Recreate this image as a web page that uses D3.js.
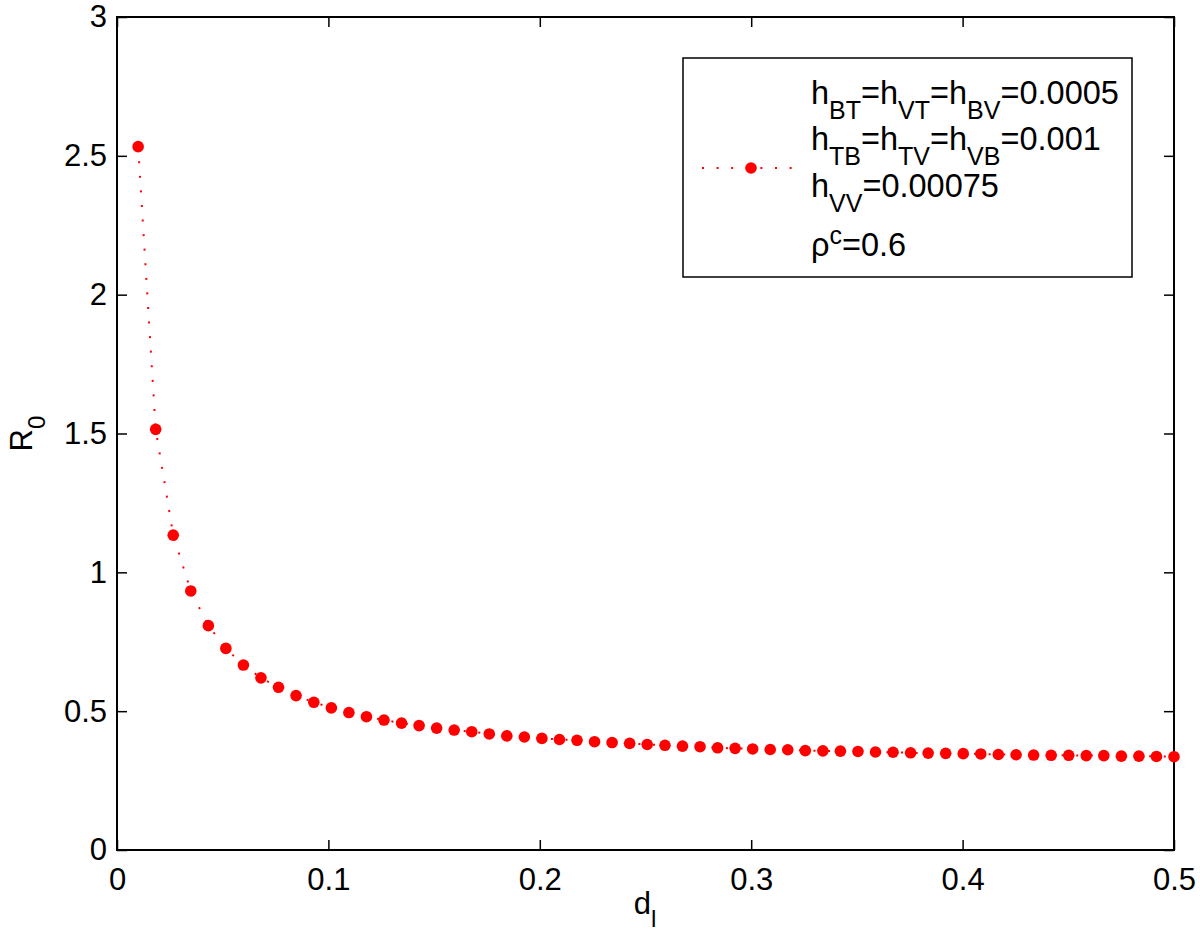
<!DOCTYPE html>
<html>
  <head>
    <meta charset="utf-8" />
    <title>R0 vs dl</title>
    <script src="https://cdn.jsdelivr.net/npm/d3@7"></script>
    <style type="text/css">
      html, body {
        margin: 0;
        padding: 0;
        background: #fff;
      }
      svg text {
        font-family: "Liberation Sans", Arial, Helvetica, sans-serif;
        fill: #000;
      }
      .tick line {
        stroke: #000;
        stroke-width: 1.5;
      }
    </style>
  </head>
  <body>
    <svg id="chart" width="1200" height="948"></svg>

    <script type="text/javascript">

    // d_l values (x) and R_0 values (y)
    var dl = [0.0100, 0.0183, 0.0266, 0.0349, 0.0432, 0.0515, 0.0598, 0.0681, 0.0764, 0.0847,
              0.0931, 0.1014, 0.1097, 0.1180, 0.1263, 0.1346, 0.1429, 0.1512, 0.1595, 0.1678,
              0.1761, 0.1844, 0.1927, 0.2010, 0.2093, 0.2176, 0.2259, 0.2342, 0.2425, 0.2508,
              0.2592, 0.2675, 0.2758, 0.2841, 0.2924, 0.3007, 0.3090, 0.3173, 0.3256, 0.3339,
              0.3422, 0.3505, 0.3588, 0.3671, 0.3754, 0.3837, 0.3920, 0.4003, 0.4086, 0.4169,
              0.4253, 0.4336, 0.4419, 0.4502, 0.4585, 0.4668, 0.4751, 0.4834, 0.4917, 0.5000];

    var r0 = [2.533, 1.515, 1.134, 0.933, 0.808, 0.726, 0.666, 0.620, 0.586, 0.556,
              0.532, 0.512, 0.495, 0.480, 0.468, 0.457, 0.448, 0.439, 0.432, 0.426,
              0.418, 0.411, 0.407, 0.402, 0.398, 0.395, 0.390, 0.387, 0.384, 0.380,
              0.377, 0.374, 0.372, 0.368, 0.366, 0.364, 0.362, 0.361, 0.358, 0.357,
              0.356, 0.355, 0.353, 0.352, 0.350, 0.349, 0.348, 0.347, 0.346, 0.344,
              0.343, 0.342, 0.341, 0.341, 0.340, 0.340, 0.338, 0.338, 0.337, 0.336];

    var xTicks = [0, 0.1, 0.2, 0.3, 0.4, 0.5],
        yTicks = [0, 0.5, 1, 1.5, 2, 2.5, 3];

    // plot box (window.top is reserved, so use m* names)
    var mLeft = 117, mRight = 1174, mTop = 17, mBottom = 850;
    var fontSize = 31, subSize = 24,
        legSize = 32.5, legSub = 25;

    var svg = d3.select('#chart');

    var x = d3.scaleLinear().domain([0, 0.5]).range([mLeft, mRight]),
        y = d3.scaleLinear().domain([0, 3]).range([mBottom, mTop]);

    var fmt = function(d) { return String(d); };

    // axes: MATLAB style, ticks pointing inward on all 4 sides
    var gx = svg.append('g')
      .attr('transform', 'translate(0,' + mBottom + ')')
      .call(d3.axisBottom(x).tickValues(xTicks).tickFormat(fmt).tickSizeInner(-10).tickSizeOuter(0).tickPadding(18));
    var gy = svg.append('g')
      .attr('transform', 'translate(' + mLeft + ',0)')
      .call(d3.axisLeft(y).tickValues(yTicks).tickFormat(fmt).tickSizeInner(-10).tickSizeOuter(0).tickPadding(10));
    var gt = svg.append('g')
      .attr('transform', 'translate(0,' + mTop + ')')
      .call(d3.axisTop(x).tickValues(xTicks).tickFormat('').tickSizeInner(-10).tickSizeOuter(0));
    var gr = svg.append('g')
      .attr('transform', 'translate(' + mRight + ',0)')
      .call(d3.axisRight(y).tickValues(yTicks).tickFormat('').tickSizeInner(-10).tickSizeOuter(0));

    [gx, gy, gt, gr].forEach(function(g) {
      g.select('.domain').remove();
      g.selectAll('text').attr('font-size', fontSize).attr('fill', '#000')
        .style('font-family', '"Liberation Sans", Arial, sans-serif');
    });

    svg.append('rect')
      .attr('x', mLeft).attr('y', mTop)
      .attr('width', mRight - mLeft).attr('height', mBottom - mTop)
      .attr('fill', 'none').attr('stroke', '#000').attr('stroke-width', 2);

    // series
    var pts = dl.map(function(d, i) { return [d, r0[i]]; });

    svg.append('path')
      .datum(pts)
      .attr('fill', 'none')
      .attr('stroke', '#f00')
      .attr('stroke-width', 2)
      .attr('stroke-dasharray', '2,12.6')
      .attr('d', d3.line().x(function(d) { return x(d[0]); }).y(function(d) { return y(d[1]); }));

    svg.append('g').selectAll('circle')
      .data(pts)
      .enter()
      .append('circle')
      .attr('cx', function(d) { return x(d[0]); })
      .attr('cy', function(d) { return y(d[1]); })
      .attr('r', 5.8)
      .attr('fill', '#f00');

    // axis labels
    var xl = svg.append('text')
      .attr('x', 645).attr('y', 914)
      .attr('text-anchor', 'middle')
      .attr('font-size', fontSize);
    xl.append('tspan').text('d');
    xl.append('tspan').attr('font-size', subSize).attr('dy', 13).text('l');

    var yl = svg.append('text')
      .attr('transform', 'translate(32,' + ((mTop + mBottom) / 2) + ') rotate(-90)')
      .attr('text-anchor', 'middle')
      .attr('font-size', fontSize);
    yl.append('tspan').text('R');
    yl.append('tspan').attr('font-size', subSize).attr('dy', 13).text('0');

    // legend
    var legend = svg.append('g');
    legend.append('rect')
      .attr('x', 683).attr('y', 58)
      .attr('width', 449).attr('height', 219)
      .attr('fill', '#fff').attr('stroke', '#000').attr('stroke-width', 1.5);

    legend.append('line')
      .attr('x1', 702).attr('x2', 793).attr('y1', 168).attr('y2', 168)
      .attr('stroke', '#f00').attr('stroke-width', 2).attr('stroke-dasharray', '2,12.6');
    legend.append('circle')
      .attr('cx', 751).attr('cy', 168).attr('r', 5.8).attr('fill', '#f00');

    var legendLines = [
      { y: 104, parts: [['h'], ['BT', 'sub'], ['=h'], ['VT', 'sub'], ['=h'], ['BV', 'sub'], ['=0.0005']] },
      { y: 150, parts: [['h'], ['TB', 'sub'], ['=h'], ['TV', 'sub'], ['=h'], ['VB', 'sub'], ['=0.001']] },
      { y: 197, parts: [['h'], ['VV', 'sub'], ['=0.00075']] },
      { y: 256, parts: [['\u03c1'], ['c', 'sup'], ['=0.6']] }
    ];

    legendLines.forEach(function(line) {
      var t = legend.append('text')
        .attr('x', 811).attr('y', line.y)
        .attr('font-size', legSize);
      var shift = 0;
      line.parts.forEach(function(p) {
        var target = p[1] === 'sub' ? 15 : (p[1] === 'sup' ? -12 : 0);
        t.append('tspan')
          .attr('dy', target - shift)
          .attr('font-size', p[1] ? legSub : legSize)
          .text(p[0]);
        shift = target;
      });
    });

    </script>
  </body>
</html>
